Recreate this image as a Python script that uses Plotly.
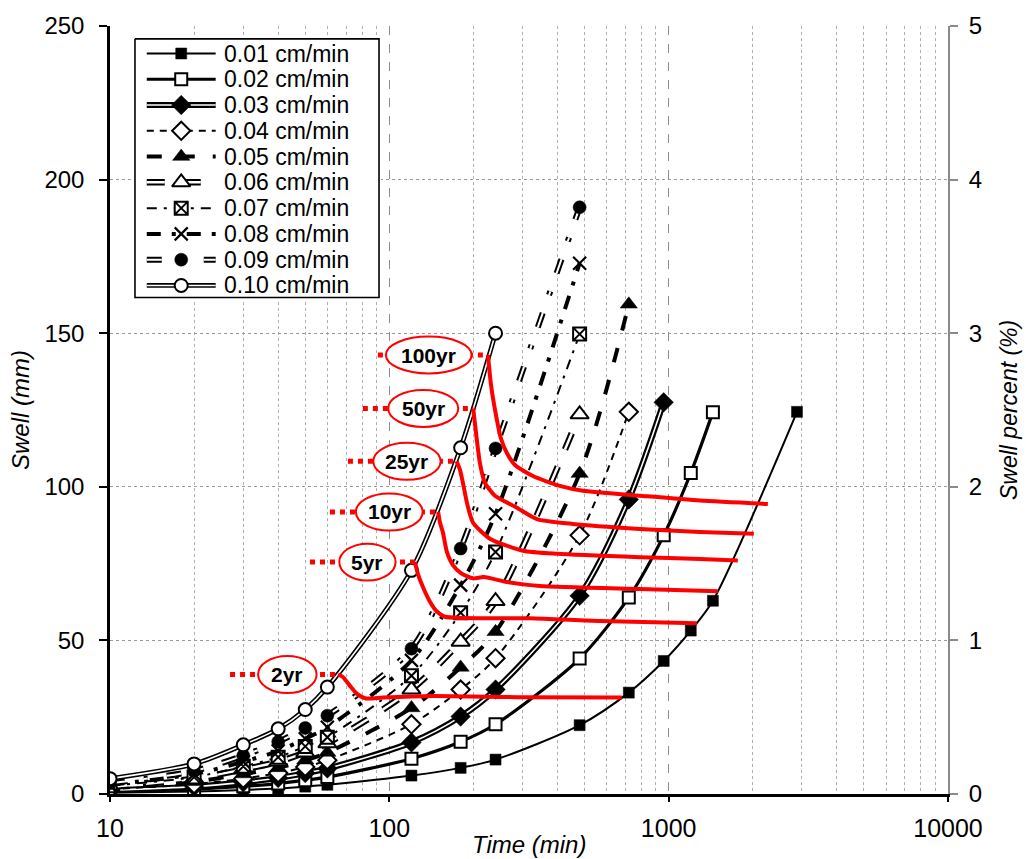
import math
import plotly.graph_objects as go

# ---------------- swell test data (time in min, swell in mm) ----------------
rate_labels = ["0.01 cm/min", "0.02 cm/min", "0.03 cm/min", "0.04 cm/min", "0.05 cm/min",
               "0.06 cm/min", "0.07 cm/min", "0.08 cm/min", "0.09 cm/min", "0.10 cm/min"]

t_001 = [10, 20, 30, 40, 50, 60, 120, 180, 240, 480, 720, 960, 1200, 1440, 2880]
s_001 = [0.4, 0.8, 1.3, 1.8, 2.4, 3.0, 6.0, 8.5, 11.2, 22.4, 33.0, 43.3, 53.2, 62.9, 124.4]

t_002 = [10, 20, 30, 40, 50, 60, 120, 180, 240, 480, 720, 960, 1200, 1440]
s_002 = [0.8, 1.6, 2.5, 3.4, 4.5, 5.5, 11.5, 17.0, 22.7, 44.1, 64.0, 84.2, 104.5, 124.3]

t_003 = [10, 20, 30, 40, 50, 60, 120, 180, 240, 480, 720, 960]
s_003 = [1.2, 2.4, 3.8, 5.2, 6.8, 8.3, 16.8, 25.2, 34.0, 64.5, 95.9, 127.5]

t_004 = [10, 20, 30, 40, 50, 60, 120, 180, 240, 480, 720]
s_004 = [1.6, 3.2, 5.0, 6.8, 8.8, 11.0, 22.7, 34.0, 44.2, 84.2, 124.4]

t_005 = [10, 20, 30, 40, 50, 60, 120, 180, 240, 480, 720]
s_005 = [2.0, 4.0, 6.5, 8.5, 11.0, 13.5, 28.0, 41.2, 52.8, 104.3, 159.4]

t_006 = [10, 20, 30, 40, 50, 60, 120, 180, 240, 480]
s_006 = [2.3, 5.0, 8.0, 10.5, 13.5, 16.5, 34.0, 49.6, 62.8, 123.6]

t_007 = [10, 20, 30, 40, 50, 60, 120, 180, 240, 480]
s_007 = [2.7, 5.5, 9.0, 12.0, 15.5, 18.5, 38.5, 59.0, 78.8, 149.7]

t_008 = [10, 20, 30, 40, 50, 60, 120, 180, 240, 480]
s_008 = [3.0, 6.5, 10.5, 14.0, 18.0, 21.7, 43.5, 68.0, 91.2, 172.8]

t_009 = [10, 20, 30, 40, 50, 60, 120, 180, 240, 480]
s_009 = [3.5, 7.5, 12.5, 17.0, 21.5, 25.5, 47.3, 79.9, 112.5, 191.0]

t_010 = [10, 20, 30, 40, 50, 60, 120, 180, 240]
s_010 = [5.0, 9.8, 16.0, 21.2, 27.5, 34.8, 72.8, 112.7, 150.0]

# ---------------- design return-period swell curves ----------------
period_labels = ["2yr", "5yr", "10yr", "25yr", "50yr", "100yr"]

p2_t = [65.5, 68.2, 72.3, 76.6, 82.5, 94.9, 143.0, 293.0, 680.0]
p2_s = [38.9, 38.1, 35.2, 32.6, 31.1, 31.4, 31.9, 31.5, 31.4]

p5_t = [123.5, 126.6, 131.9, 139.8, 148.0, 158.1, 183.4, 318.6, 567.4, 1261.0]
p5_s = [75.5, 71.6, 67.4, 62.6, 59.4, 57.7, 57.3, 57.2, 56.3, 55.6]

p10_t = [149.6, 151.8, 155.5, 160.8, 168.9, 180.4, 199.2, 218.1, 263.5, 345.9, 788.5, 1500.0]
p10_s = [91.8, 88.4, 85.2, 78.7, 74.5, 71.9, 70.2, 70.6, 69.0, 67.7, 66.7, 66.0]

p25_t = [174.1, 178.9, 183.4, 189.6, 199.2, 229.1, 300.8, 398.0, 788.5, 1293.0, 1768.0]
p25_s = [108.3, 105.6, 101.3, 94.8, 88.4, 83.1, 79.2, 78.2, 77.1, 76.5, 76.0]

p50_t = [199.7, 202.5, 211.0, 219.9, 238.8, 286.3, 337.5, 454.1, 788.5, 1293.0, 2018.0]
p50_s = [125.5, 120.6, 107.7, 101.3, 97.1, 93.2, 89.5, 87.9, 86.3, 85.3, 84.7]

p100_t = [225.4, 231.0, 236.8, 250.8, 263.5, 281.6, 326.6, 407.9, 493.1, 788.5, 1293.0, 2265.0]
p100_s = [142.9, 133.5, 127.1, 115.8, 111.0, 107.1, 103.5, 100.3, 98.7, 97.1, 95.5, 94.4]

# label callouts: start of the dotted leader, and left/right extent of the oval
leader_start_t = [26.9, 52.0, 61.3, 71.1, 80.4, 91.0]
oval_left_t = [33.9, 66.2, 75.9, 87.6, 99.1, 97.2]
oval_right_t = [54.9, 105.3, 131.6, 152.6, 176.5, 197.0]
oval_half_height = 6.0

# ---------------- styles ----------------
BLACK = "black"
RED = "#ff0000"
FONT = "Arial, Liberation Sans, sans-serif"

styles = [
    dict(w=2.0, inner=None, dash="solid", sym="square", size=11, fill=BLACK),
    dict(w=3.2, inner=None, dash="solid", sym="square", size=12, fill="white"),
    dict(w=6.0, inner=1.6, dash="solid", sym="diamond", size=15, fill=BLACK),
    dict(w=2.0, inner=None, dash="7px,6px", sym="diamond", size=14, fill="white"),
    dict(w=4.0, inner=None, dash="15px,18px", sym="triangle-up", size=15, fill=BLACK),
    dict(w=6.5, inner=2.5, dash="18px,18px", sym="triangle-up", size=16, fill="white"),
    dict(w=2.0, inner=None, dash="10px,7px,3px,7px", sym="square-x", size=13, fill="white"),
    dict(w=4.0, inner=None, dash="14px,11px,4px,11px", sym="x-thin", size=13, fill=BLACK),
    dict(w=6.0, inner=2.0, dash="15px,19px,4px,19px", sym="circle", size=13, fill=BLACK),
    dict(w=4.8, inner=1.6, dash="solid", sym="circle", size=13, fill="white"),
]

series_t = [t_001, t_002, t_003, t_004, t_005, t_006, t_007, t_008, t_009, t_010]
series_s = [s_001, s_002, s_003, s_004, s_005, s_006, s_007, s_008, s_009, s_010]
period_t = [p2_t, p5_t, p10_t, p25_t, p50_t, p100_t]
period_s = [p2_s, p5_s, p10_s, p25_s, p50_s, p100_s]


def marker_of(st):
    if st["sym"] == "x-thin":
        return dict(symbol="x-thin", size=st["size"], color=BLACK, line=dict(color=BLACK, width=2.2))
    if st["fill"] == "white":
        return dict(symbol=st["sym"], size=st["size"], color="white", line=dict(color=BLACK, width=2))
    return dict(symbol=st["sym"], size=st["size"], color=BLACK, line=dict(color=BLACK, width=0.5))


def add_series(fig, x, y, st, name, xaxis="x", yaxis="y", shape="spline"):
    outer = dict(color=BLACK, width=st["w"], dash=st["dash"], shape=shape, smoothing=0.8)
    if st["inner"]:
        fig.add_trace(go.Scatter(x=x, y=y, mode="lines", line=outer, xaxis=xaxis, yaxis=yaxis,
                                 showlegend=False, hoverinfo="skip"))
        inner = dict(color="white", width=st["inner"], dash=st["dash"], shape=shape, smoothing=0.8)
        fig.add_trace(go.Scatter(x=x, y=y, mode="lines", line=inner, xaxis=xaxis, yaxis=yaxis,
                                 showlegend=False, name=name))
    else:
        fig.add_trace(go.Scatter(x=x, y=y, mode="lines", line=outer, xaxis=xaxis, yaxis=yaxis,
                                 showlegend=False, name=name))


fig = go.Figure()

# swell curves for each loading rate
for t, s, st, name in zip(series_t, series_s, styles, rate_labels):
    add_series(fig, t, s, st, name)
    fig.add_trace(go.Scatter(x=t, y=s, mode="markers", marker=marker_of(st),
                             showlegend=False, name=name))

# return-period curves with dotted leaders
for t, s, x_lead in zip(period_t, period_s, leader_start_t):
    fig.add_trace(go.Scatter(x=t, y=s, mode="lines",
                             line=dict(color=RED, width=4, shape="spline", smoothing=0.6),
                             showlegend=False, hoverinfo="skip"))
    fig.add_trace(go.Scatter(x=[x_lead, t[0]], y=[s[0], s[0]], mode="lines",
                             line=dict(color=RED, width=5, dash="dot"),
                             showlegend=False, hoverinfo="skip"))

# secondary axis carrier (percent scale)
fig.add_trace(go.Scatter(x=[10], y=[0], yaxis="y2", mode="markers",
                         marker=dict(opacity=0), showlegend=False, hoverinfo="skip"))

shapes = []
annotations = []
for label, s_list, x0, x1 in zip(period_labels, period_s, oval_left_t, oval_right_t):
    yc = s_list[0]
    shapes.append(dict(type="circle", xref="x", yref="y", x0=x0, x1=x1,
                       y0=yc - oval_half_height, y1=yc + oval_half_height,
                       fillcolor="white", line=dict(color=RED, width=2), layer="above"))
    annotations.append(dict(x=(math.log10(x0) + math.log10(x1)) / 2, y=yc, xref="x", yref="y",
                            text="<b>%s</b>" % label, showarrow=False,
                            font=dict(family=FONT, size=21, color=BLACK),
                            xanchor="center", yanchor="middle"))

# ---------------- legend panel ----------------
LEG_W, LEG_H = 248, 265
row0, row_step = 15.0, 26.4
fig.add_trace(go.Scatter(x=[0, LEG_W, LEG_W, 0, 0], y=[0, 0, LEG_H, LEG_H, 0],
                         xaxis="x3", yaxis="y3", mode="lines", fill="toself",
                         fillcolor="white", line=dict(color=BLACK, width=1.6),
                         showlegend=False, hoverinfo="skip"))
for i, (st, name) in enumerate(zip(styles, rate_labels)):
    ry = row0 + row_step * i
    add_series(fig, [12, 82], [ry, ry], st, name, xaxis="x3", yaxis="y3", shape="linear")
    fig.add_trace(go.Scatter(x=[47], y=[ry], xaxis="x3", yaxis="y3", mode="markers",
                             marker=marker_of(st), showlegend=False, hoverinfo="skip"))
    annotations.append(dict(x=88, y=ry, xref="x3", yref="y3", text=name, showarrow=False,
                            xanchor="left", yanchor="middle",
                            font=dict(family=FONT, size=23, color=BLACK)))

# axis titles
annotations += [
    dict(x=0.5, y=0, xref="paper", yref="paper", yshift=-50, text="<i>Time (min)</i>",
         showarrow=False, xanchor="center", yanchor="middle",
         font=dict(family=FONT, size=24, color=BLACK)),
    dict(x=0, y=0.5, xref="paper", yref="paper", xshift=-90, text="<i>Swell (mm)</i>",
         showarrow=False, textangle=-90, xanchor="center", yanchor="middle",
         font=dict(family=FONT, size=24, color=BLACK)),
    dict(x=1, y=0.5, xref="paper", yref="paper", xshift=61, text="<i>Swell percent (%)</i>",
         showarrow=False, textangle=-90, xanchor="center", yanchor="middle",
         font=dict(family=FONT, size=23, color=BLACK)),
]

W, H = 1026, 859
ML, MR, MT, MB = 110, 78, 19, 65
plot_w, plot_h = W - ML - MR, H - MT - MB
leg_x0 = (133 - ML) / plot_w
leg_x1 = (381 - ML) / plot_w
leg_y1 = (H - MB - 30) / plot_h
leg_y0 = (H - MB - 295) / plot_h

fig.update_layout(
    width=W, height=H, autosize=False,
    margin=dict(l=ML, r=MR, t=MT, b=MB),
    paper_bgcolor="white", plot_bgcolor="white",
    showlegend=False,
    font=dict(family=FONT, size=24, color=BLACK),
    xaxis=dict(type="log", range=[1, 4], tickmode="array",
               tickvals=[10, 100, 1000, 10000], ticktext=["10", "100", "1000", "10000"],
               showline=True, linecolor=BLACK, linewidth=2.5,
               ticks="outside", ticklen=5, tickcolor=BLACK, tickwidth=1.5,
               ticklabelstandoff=5,
               showgrid=True, gridcolor="#8c8c8c", gridwidth=1.4, griddash="dash",
               minor=dict(tickmode="array",
                          tickvals=[m * 10 ** k for k in (1, 2, 3) for m in range(2, 10)],
                          showgrid=True, gridcolor="#b0b0b0", gridwidth=1.2, griddash="dot",
                          ticks=""),
               zeroline=False, tickfont=dict(size=25)),
    yaxis=dict(range=[0, 250], dtick=50, tick0=0,
               showline=True, linecolor=BLACK, linewidth=2.5,
               ticks="outside", ticklen=8, tickcolor=BLACK, tickwidth=1.5,
               ticklabelstandoff=10,
               showgrid=True, gridcolor="#9a9a9a", gridwidth=1.4, griddash="dot",
               zeroline=False, tickfont=dict(size=24)),
    yaxis2=dict(range=[0, 5], dtick=1, tick0=0, overlaying="y", side="right",
                showline=True, linecolor="#8a8a8a", linewidth=2,
                ticks="outside", ticklen=8, tickcolor="#8a8a8a", tickwidth=1.5,
                ticklabelstandoff=6,
                showgrid=False, zeroline=False, tickfont=dict(size=24)),
    xaxis3=dict(domain=[leg_x0, leg_x1], range=[-2, LEG_W + 2], anchor="y3",
                visible=False, fixedrange=True),
    yaxis3=dict(domain=[leg_y0, leg_y1], range=[LEG_H + 2, -2], anchor="x3",
                visible=False, fixedrange=True),
    shapes=shapes,
    annotations=annotations,
)

fig.write_html("out.html")
